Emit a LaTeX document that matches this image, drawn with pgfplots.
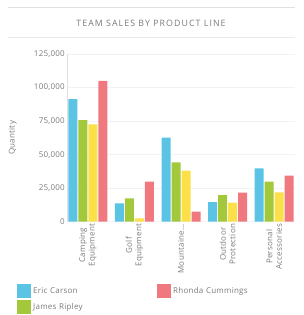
\documentclass[border=0pt]{standalone}
\usepackage{pgfplots}
\pgfplotsset{compat=1.18}
\usepackage{fontspec}
\setmainfont{Open Sans}[LetterSpace=3]
\newfontfamily\titlefont{Open Sans}[LetterSpace=12]
\definecolor{cblue}{HTML}{5BC3E3}
\definecolor{cgreen}{HTML}{A3C83C}
\definecolor{cyellow}{HTML}{FBE04A}
\definecolor{cred}{HTML}{F0787F}
\definecolor{txt}{HTML}{7A7A7A}
\begin{document}
\begin{tikzpicture}[x=1pt,y=1pt]
\path[use as bounding box] (0,0) rectangle (303,315);
\draw[black!12,line width=0.8pt] (8,308) -- (295,308);
\draw[black!8,line width=0.8pt] (8,278) -- (295,278);
\node[font=\titlefont\fontsize{8.8}{10}\selectfont, text=txt] at (151,292) {TEAM SALES BY PRODUCT LINE};
\begin{axis}[
  at={(67pt,93.3pt)}, anchor=south west,
  width=228pt, height=167.7pt, scale only axis,
  ymin=0, ymax=125000, xmin=-0.45, xmax=4.45,
  ybar=1pt, bar width=9pt,
  xtick={0,1,2,3,4},
  xticklabels={Camping\\Equipment, Golf\\Equipment, Mountaine.{}.{}., Outdoor\\Protection, Personal\\Accessories},
  xticklabel style={rotate=90, anchor=east, align=center, font=\fontsize{8}{9.5}\selectfont, text=txt},
  ytick={0,25000,50000,75000,100000,125000},
  scaled y ticks=false,
  /pgf/number format/assume math mode=true,
  yticklabel style={/pgf/number format/.cd, fixed, 1000 sep={,}, /tikz/.cd, font=\fontsize{8}{9.5}\selectfont, text=txt},
  ylabel={Quantity}, ylabel style={font=\fontsize{8}{9.5}\selectfont, text=txt, at={(-47pt,0.5)}, anchor=south},
  ymajorgrids, grid style={draw=black!5},
  major tick length=0pt,
  axis lines*=left,
  x axis line style={draw=none},
  y axis line style={draw=black!12},
  tick label style={inner sep=2pt},
  xtick pos=bottom,
  legend style={at={(-53pt,-60pt)}, anchor=north west, draw=none, fill=none,
    font=\fontsize{8}{9.5}\selectfont, text=txt, column sep=0pt, row sep=2pt,
    /tikz/every even column/.append style={text width=122pt}},
  legend columns=2, legend cell align=left,
  legend image code/.code={\fill[#1, draw=none] (0pt,-7pt) rectangle (14pt,7pt);},
]
\addlegendimage{fill=cblue, draw=none}
\addlegendimage{fill=cred, draw=none}
\addlegendimage{fill=cgreen, draw=none}
\addplot[fill=cblue, draw=none] coordinates {(0,91400) (1,13700) (2,62600) (3,14500) (4,39800)};
\addplot[fill=cgreen, draw=none] coordinates {(0,75800) (1,17400) (2,44300) (3,19900) (4,29800)};
\addplot[fill=cyellow, draw=none] coordinates {(0,72600) (1,2500) (2,38000) (3,14200) (4,21900)};
\addplot[fill=cred, draw=none] coordinates {(0,104900) (1,29800) (2,7500) (3,21600) (4,34300)};
\legend{Eric Carson, Rhonda Cummings, James Ripley}
\end{axis}
\end{tikzpicture}
\end{document}
